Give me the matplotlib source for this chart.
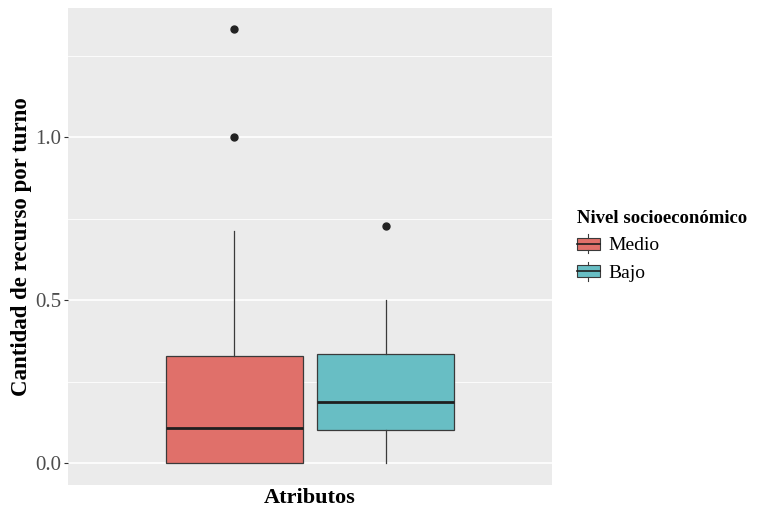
import matplotlib.pyplot as plt
from matplotlib.patches import Patch, Rectangle
from matplotlib.lines import Line2D
from matplotlib.legend_handler import HandlerBase

# resumen de cada caja
grupos = ['Medio', 'Bajo']
colores = ['#E0706A', '#68BEC4']
q1 = [0.0, 0.101]
mediana = [0.107, 0.188]
q3 = [0.330, 0.335]
bigote_inf = [0.0, 0.0]
bigote_sup = [0.712, 0.5]
atipicos = [[1.0, 1.333], [0.727]]
posiciones = [1 - 0.1875, 1 + 0.1875]

plt.rcParams['font.family'] = ['Liberation Serif', 'DejaVu Serif']

fig = plt.figure(figsize=(7.6, 5.09), dpi=100)
ax = fig.add_axes([68 / 760, 24 / 509, 484 / 760, 477 / 509])
ax.set_facecolor('#EBEBEB')
for s in ax.spines.values():
    s.set_visible(False)

stats = []
for i in range(len(grupos)):
    stats.append({'med': mediana[i], 'q1': q1[i], 'q3': q3[i],
                  'whislo': bigote_inf[i], 'whishi': bigote_sup[i],
                  'fliers': atipicos[i], 'label': grupos[i]})

bp = ax.bxp(stats, positions=posiciones, widths=0.34, patch_artist=True,
            showcaps=False, manage_ticks=False,
            boxprops=dict(edgecolor='#3a3a3a', linewidth=0.9),
            whiskerprops=dict(color='#3a3a3a', linewidth=0.9),
            medianprops=dict(color='#1f1f1f', linewidth=2.0),
            flierprops=dict(marker='o', markerfacecolor='#222222',
                            markeredgecolor='#222222', markersize=5))
for caja, c in zip(bp['boxes'], colores):
    caja.set_facecolor(c)

ax.set_ylim(-0.067, 1.396)
ax.set_xlim(0.4, 1.6)
ax.set_yticks([0, 0.5, 1.0])
ax.set_yticklabels(['0.0', '0.5', '1.0'])
ax.set_yticks([0.25, 0.75, 1.25], minor=True)
ax.tick_params(axis='y', which='major', colors='#333333', labelcolor='#4D4D4D',
               labelsize=15, length=3, width=0.8, pad=2)
ax.tick_params(axis='y', which='minor', length=0)
ax.set_xticks([])
ax.grid(axis='y', which='major', color='white', linewidth=1.2)
ax.grid(axis='y', which='minor', color='white', linewidth=0.6)
ax.set_axisbelow(True)

ax.set_ylabel('Cantidad de recurso por turno', fontsize=16.5, fontweight='bold', labelpad=2)
ax.set_xlabel('Atributos', fontsize=16, fontweight='bold', labelpad=2)


class CajaHandler(HandlerBase):
    def create_artists(self, legend, orig_handle, xdescent, ydescent,
                       width, height, fontsize, trans):
        x0, y0 = -xdescent, -ydescent
        fc = orig_handle.get_facecolor()
        ec = '#3a3a3a'
        r = Rectangle((x0, y0 + 0.18 * height), width, 0.64 * height,
                      facecolor=fc, edgecolor=ec, linewidth=0.8, transform=trans)
        m = Line2D([x0, x0 + width], [y0 + 0.5 * height] * 2, color='#1f1f1f',
                   linewidth=1.2, transform=trans)
        w1 = Line2D([x0 + width / 2] * 2, [y0, y0 + 0.18 * height], color=ec,
                    linewidth=0.8, transform=trans)
        w2 = Line2D([x0 + width / 2] * 2, [y0 + 0.82 * height, y0 + height], color=ec,
                    linewidth=0.8, transform=trans)
        return [r, m, w1, w2]


handles = [Patch(facecolor=c) for c in colores]
leg = fig.legend(handles, grupos, handler_map={Patch: CajaHandler()},
                 loc='upper left', bbox_to_anchor=(563 / 760, 1 - 196 / 509),
                 frameon=False, fontsize=14, title='Nivel socioeconómico',
                 title_fontproperties={'weight': 'bold', 'size': 13.5},
                 handlelength=1.2, handleheight=1.1, handletextpad=0.45,
                 labelspacing=0.4, borderpad=0.2)
leg._legend_box.align = 'left'

fig.savefig('out.png', dpi=100)
